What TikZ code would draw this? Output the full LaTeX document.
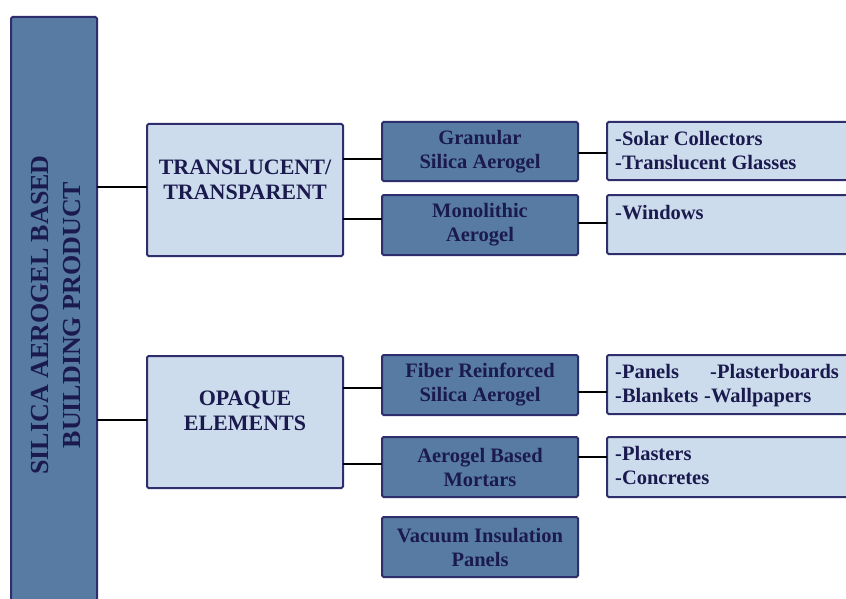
\documentclass[tikz,border=0pt]{standalone}
\usepackage{fontspec}
\setmainfont{Liberation Serif}
\definecolor{bordc}{RGB}{46,46,108}
\definecolor{lightc}{RGB}{205,220,236}
\definecolor{midc}{RGB}{88,123,164}
\definecolor{textc}{RGB}{26,26,78}
\tikzset{
  box/.style={draw=bordc, line width=2pt, rounded corners=1.5pt, inner sep=0pt, outer sep=0pt, anchor=north west},
  light/.style={box, fill=lightc},
  mid/.style={box, fill=midc, text=textc, align=center, font=\fontsize{20.5}{24}\selectfont\bfseries},
  head/.style={text=textc, align=center, font=\fontsize{22}{25}\selectfont\bfseries},
  itemtxt/.style={text=textc, align=left, anchor=north west, inner sep=0pt, font=\fontsize{20.5}{24}\selectfont\bfseries},
  conn/.style={draw=black, line width=2pt}
}
\begin{document}
\begin{tikzpicture}[x=1pt,y=-1pt]
\useasboundingbox (0,0) rectangle (846,599);
\clip (0,0) rectangle (846,599);
\fill[white] (0,0) rectangle (846,599);
% tall box
\node[box, fill=midc, minimum width=86pt, minimum height=620pt] (tall) at (11,17) {};
\node[text=textc, align=center, rotate=90, font=\fontsize{26}{32}\selectfont\bfseries] (talltxt) at (56,315) {SILICA AEROGEL BASED\\BUILDING PRODUCT};
% categories
\node[light, minimum width=196pt, minimum height=132pt] (trans) at (147,124) {};
\node[head] (transtxt) at ([yshift=10pt]trans.center) {TRANSLUCENT/\\TRANSPARENT};
\node[light, minimum width=196pt, minimum height=132pt] (opaq) at (147,356) {};
\node[head] (opaqtxt) at ([yshift=11pt]opaq.center) {OPAQUE\\ELEMENTS};
% middle boxes
\node[mid, minimum width=196pt, minimum height=59pt] (gran) at (382,122) {Granular\\Silica Aerogel};
\node[mid, minimum width=196pt, minimum height=60pt] (mono) at (382,195) {Monolithic\\Aerogel};
\node[mid, minimum width=196pt, minimum height=60pt] (fibr) at (382,355) {Fiber Reinforced\\Silica Aerogel};
\node[mid, minimum width=196pt, minimum height=60pt] (mort) at (382,437) {Aerogel Based\\Mortars};
\node[mid, minimum width=196pt, minimum height=60pt] (vacu) at (382,517) {Vacuum Insulation\\Panels};
% right boxes
\node[light, minimum width=260pt, minimum height=58pt] (solar) at (607,122) {};
\node[itemtxt] (solartxt) at ([xshift=8pt,yshift=-9pt]solar.north west) {-Solar Collectors\\-Translucent Glasses};
\node[light, minimum width=260pt, minimum height=59pt] (wind) at (607,195) {};
\node[itemtxt] (windtxt) at ([xshift=8pt,yshift=-10pt]wind.north west) {-Windows};
\node[light, minimum width=260pt, minimum height=59pt] (pane) at (607,355) {};
\node[itemtxt] (panetxt) at ([xshift=8pt,yshift=-9pt]pane.north west) {\makebox[95pt][l]{-Panels}-Plasterboards\\\makebox[89pt][l]{-Blankets}-Wallpapers};
\node[light, minimum width=260pt, minimum height=60pt] (plas) at (607,437) {};
\node[itemtxt] (plastxt) at ([xshift=8pt,yshift=-9pt]plas.north west) {-Plasters\\-Concretes};
% connectors
\draw[conn] (tall.east |- 0,187) -- (trans.west |- 0,187);
\draw[conn] (tall.east |- 0,420) -- (opaq.west |- 0,420);
\draw[conn] (trans.east |- 0,159) -- (gran.west |- 0,159);
\draw[conn] (trans.east |- 0,219) -- (mono.west |- 0,219);
\draw[conn] (opaq.east |- 0,388) -- (fibr.west |- 0,388);
\draw[conn] (opaq.east |- 0,464) -- (mort.west |- 0,464);
\draw[conn] (gran.east |- 0,153) -- (solar.west |- 0,153);
\draw[conn] (mono.east |- 0,223) -- (wind.west |- 0,223);
\draw[conn] (fibr.east |- 0,392) -- (pane.west |- 0,392);
\draw[conn] (mort.east |- 0,457) -- (plas.west |- 0,457);
\end{tikzpicture}
\end{document}
